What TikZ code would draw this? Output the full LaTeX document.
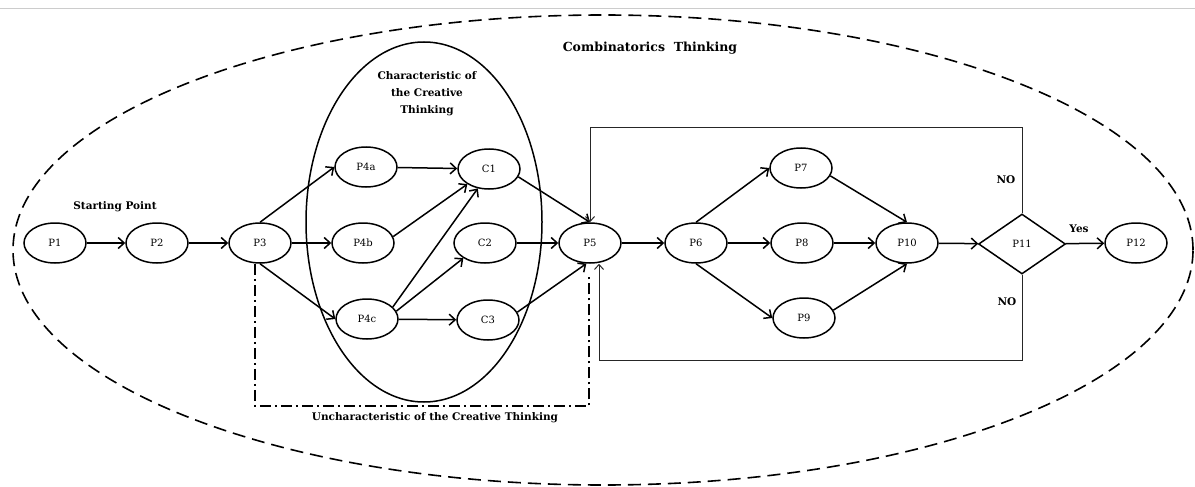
\documentclass[tikz,border=0pt]{standalone}
\usepackage{fontspec}
\setmainfont{DejaVu Serif}
\usetikzlibrary{arrows.meta,shapes.geometric}
\begin{document}
\begin{tikzpicture}[x=1pt,y=-1pt,
  proc/.style={draw,ellipse,line width=1.5pt,minimum width=62pt,minimum height=40pt,inner sep=0pt,font=\fontsize{10}{12}\selectfont},
  dec/.style={draw,diamond,aspect=1.45,line width=1.5pt,minimum width=87pt,minimum height=60pt,inner sep=0pt,font=\fontsize{10}{12}\selectfont},
  arr/.style={line width=1.5pt,-{Straight Barb[length=6pt,width=11pt,line width=1.5pt]}},
  fb/.style={line width=1pt,black!85,-{Straight Barb[length=5pt,width=9pt,line width=1pt]}},
  lab/.style={font=\bfseries\fontsize{10.5}{17}\selectfont,align=center,inner sep=0pt},
  bigtitle/.style={font=\bfseries\fontsize{12.5}{15}\selectfont,inner sep=0pt}]
\useasboundingbox (0,0) rectangle (1195,487);
\draw[black!20,line width=0.8pt] (0,8) -- (1195,8);
% outer dashed ellipse
\draw[line width=1.6pt,dash pattern=on 13pt off 7pt] (603,250) ellipse [x radius=590pt,y radius=235pt];
% inner ellipse
\draw[line width=1.5pt] (424,222) ellipse [x radius=118pt,y radius=180pt];
% nodes
\node[proc] (P1) at (55,243) {P1};
\node[proc] (P2) at (157,243) {P2};
\node[proc] (P3) at (260,243) {P3};
\node[proc] (P4a) at (366,167) {P4a};
\node[proc] (P4b) at (363,243) {P4b};
\node[proc] (P4c) at (367,319) {P4c};
\node[proc] (C1) at (489,169) {C1};
\node[proc] (C2) at (485,243) {C2};
\node[proc] (C3) at (488,320) {C3};
\node[proc] (P5) at (590,243) {P5};
\node[proc] (P6) at (696,243) {P6};
\node[proc] (P7) at (801,168) {P7};
\node[proc] (P8) at (802,243) {P8};
\node[proc] (P9) at (804,318) {P9};
\node[proc] (P10) at (907,243) {P10};
\node[dec] (P11) at (1022,244) {P11};
\node[proc] (P12) at (1136,243) {P12};
% labels
\node[bigtitle] (tComb) at (650,48) {Combinatorics\ \ Thinking};
\node[lab] (tChar) at (427,94) {Characteristic of\\the Creative\\Thinking};
\node[lab] (tStart) at (115,207) {Starting Point};
\node[lab] (tUnch) at (435,418) {Uncharacteristic of the Creative Thinking};
\node[lab] (tNO1) at (1006,180) {NO};
\node[lab] (tNO2) at (1007,302) {NO};
\node[lab] (tYes) at (1079,229) {Yes};
% arrows
\draw[arr] (P1) -- (P2);
\draw[arr] (P2) -- (P3);
\draw[arr] (P3) -- (P4b);
\draw[arr] (P3.north) -- (P4a.west);
\draw[arr] (P3.south) -- (P4c.west);
\draw[arr] (P4a) -- (C1);
\draw[arr] (P4b.12) -- (C1.215);
\draw[arr] (P4c.25) -- (C1.240);
\draw[arr] (P4c.15) -- (C2.215);
\draw[arr] (P4c) -- (C3);
\draw[arr] (C1.-15) -- (P5.north);
\draw[arr] (C2) -- (P5);
\draw[arr] (C3.15) -- (P5.-100);
\draw[arr] (P5) -- (P6);
\draw[arr] (P6.north) -- (P7.west);
\draw[arr] (P6) -- (P8);
\draw[arr] (P6.south) -- (P9.west);
\draw[arr] (P7.-15) -- (P10.north);
\draw[arr] (P8) -- (P10);
\draw[arr] (P9.15) -- (P10.south);
\draw[arr] (P10) -- (P11);
\draw[arr] (P11) -- (P12);
% feedback loops
\coordinate (fbT) at (1022,127);
\coordinate (fbB) at (1022,360);
\draw[fb] (P11.north) -- (fbT) -| (P5.north);
\draw[fb] (P11.south) -- (fbB) -| ([xshift=9pt]P5.south);
% uncharacteristic path
\coordinate (ucA) at (255,406);
\coordinate (ucE) at (589,277);
\draw[line width=1.5pt,dash pattern=on 11pt off 4pt on 2pt off 4pt] ([xshift=-5pt]P3.south) -- (ucA) -| (ucE);
\end{tikzpicture}
\end{document}
